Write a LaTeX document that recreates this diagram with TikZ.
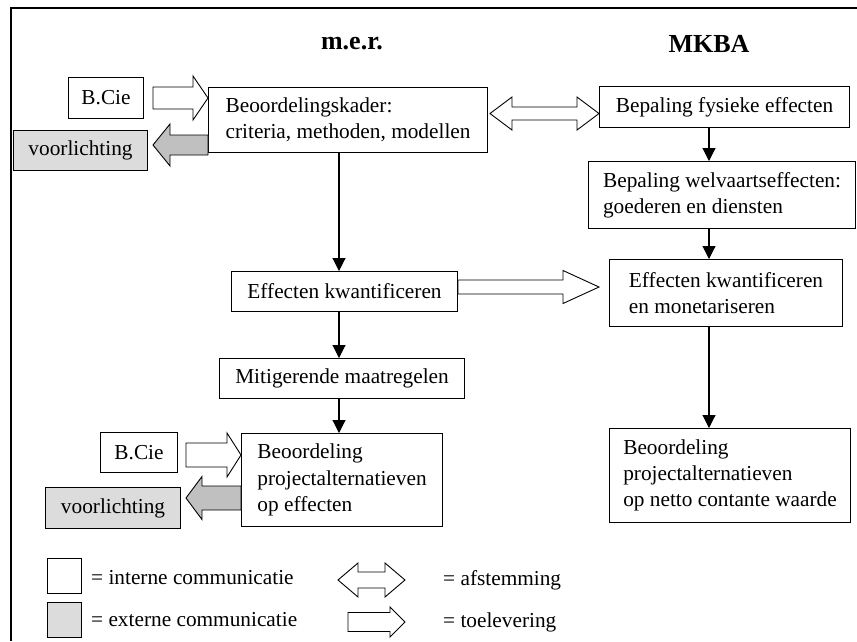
\documentclass[tikz,border=0pt]{standalone}
\usepackage{fontspec}
\setmainfont{Liberation Serif}
\usetikzlibrary{arrows.meta}
\definecolor{boxgray}{HTML}{DCDCDC}
\definecolor{arrgray}{HTML}{C0C0C0}
\tikzset{
  box/.style={draw=black, line width=1.1pt, fill=white, inner sep=0pt, anchor=north west, align=center},
  graybox/.style={fill=boxgray},
  lefttext/.style={align=left},
  blockarr/.style={draw=black, line width=0.9pt, fill=white, line join=miter},
  grayarr/.style={fill=arrgray},
  varr/.style={draw=black, line width=1.1pt, -{Triangle[width=13pt,length=13pt]}},
  title/.style={font=\bfseries\fontsize{26}{30}\selectfont, inner sep=0pt},
  legtext/.style={anchor=west, inner sep=0pt}
}
% box: [style]{name}{x1}{y1}{x2}{y2}{text}
\newcommand\bx[7][]{\node[box,#1,minimum width={#5-#3},minimum height={#6-#4}] (#2) at (#3,#4) {#7};}
% right-pointing block arrow: [style]{tail x}{tip x}{center y}{shaft half}{head half}{head length}
\newcommand\rblock[7][]{\draw[blockarr,#1] (#2,#4-#5) -- (#3-#7,#4-#5) -- (#3-#7,#4-#6) -- (#3,#4) -- (#3-#7,#4+#6) -- (#3-#7,#4+#5) -- (#2,#4+#5) -- cycle;}
% left-pointing block arrow
\newcommand\lblock[7][]{\draw[blockarr,#1] (#2,#4-#5) -- (#3+#7,#4-#5) -- (#3+#7,#4-#6) -- (#3,#4) -- (#3+#7,#4+#6) -- (#3+#7,#4+#5) -- (#2,#4+#5) -- cycle;}
% double block arrow: [style]{left tip}{right tip}{center y}{shaft half}{head half}{head length}
\newcommand\dblock[7][]{\draw[blockarr,#1] (#2,#4) -- (#2+#7,#4-#6) -- (#2+#7,#4-#5) -- (#3-#7,#4-#5) -- (#3-#7,#4-#6) -- (#3,#4) -- (#3-#7,#4+#6) -- (#3-#7,#4+#5) -- (#2+#7,#4+#5) -- (#2+#7,#4+#6) -- cycle;}
\begin{document}
\begin{tikzpicture}[x=1pt,y=-1pt,font=\fontsize{21.3}{26.3}\selectfont]
\useasboundingbox (0,0) rectangle (857,641);
\fill[white] (0,0) rectangle (857,641);
% frame
\draw[line width=2pt] (11,641) -- (11,8) -- (857,8);
% titles
\node[title] (mer) at (352,44) {m.e.r.};
\node[title] (mkba) at (709,44) {MKBA};
% boxes left column
\bx{bcieA}{68}{77}{143}{118}{B.Cie}
\bx[lefttext]{kader}{208}{87}{487}{152}{Beoordelingskader:\\criteria, methoden, modellen}
\bx[graybox]{voorA}{13}{130}{147}{170}{voorlichting}
\bx{ekw}{231}{271}{457}{311}{Effecten kwantificeren}
\bx{mitig}{219}{358}{464}{398}{Mitigerende maatregelen}
\bx{bcieB}{100}{432}{177}{472}{B.Cie}
\bx[graybox]{voorB}{45}{487}{180}{528}{voorlichting}
\bx[lefttext]{beoA}{241}{433}{442}{526}{Beoordeling\\projectalternatieven\\op effecten}
% boxes right column
\bx{fys}{599}{86}{849}{127}{Bepaling fysieke effecten}
\bx[lefttext]{welv}{588}{161}{855}{228}{Bepaling welvaartseffecten:\\goederen en diensten}
\bx[lefttext]{monet}{609}{259}{842}{326}{Effecten kwantificeren\\en monetariseren}
\bx[lefttext]{beoB}{609}{428}{850}{522}{Beoordeling\\projectalternatieven\\op netto contante waarde}
% vertical connectors
\coordinate (lx) at (339,0);
\coordinate (rx) at (709,0);
\draw[varr] (kader.south -| lx) -- (ekw.north -| lx);
\draw[varr] (ekw.south -| lx) -- (mitig.north -| lx);
\draw[varr] (mitig.south -| lx) -- (beoA.north -| lx);
\draw[varr] (fys.south -| rx) -- (welv.north -| rx);
\draw[varr] (welv.south -| rx) -- (monet.north -| rx);
\draw[varr] (monet.south -| rx) -- (beoB.north -| rx);
% block arrows
\rblock{153}{208}{98}{11}{22}{15}
\lblock[grayarr]{208}{153}{145}{10}{21}{17}
\dblock{490}{599}{113.5}{6.5}{16.5}{22}
\rblock{458}{599}{287}{7}{16.5}{36}
\rblock{186}{241}{455}{12}{22}{14}
\lblock[grayarr]{241}{186}{498}{12}{21.5}{16}
% legend
\bx{legA}{47}{558}{81}{593}{}
\bx[graybox]{legB}{47}{602}{81}{637}{}
\node[legtext] (legAt) at (91,578) {= interne communicatie};
\node[legtext] (legBt) at (91,620) {= externe communicatie};
\dblock{338}{405}{580}{8}{17}{20}
\rblock{348}{405}{622}{9.5}{15}{15}
\node[legtext] (legCt) at (443,580) {= afstemming};
\node[legtext] (legDt) at (443,622) {= toelevering};
\end{tikzpicture}
\end{document}
